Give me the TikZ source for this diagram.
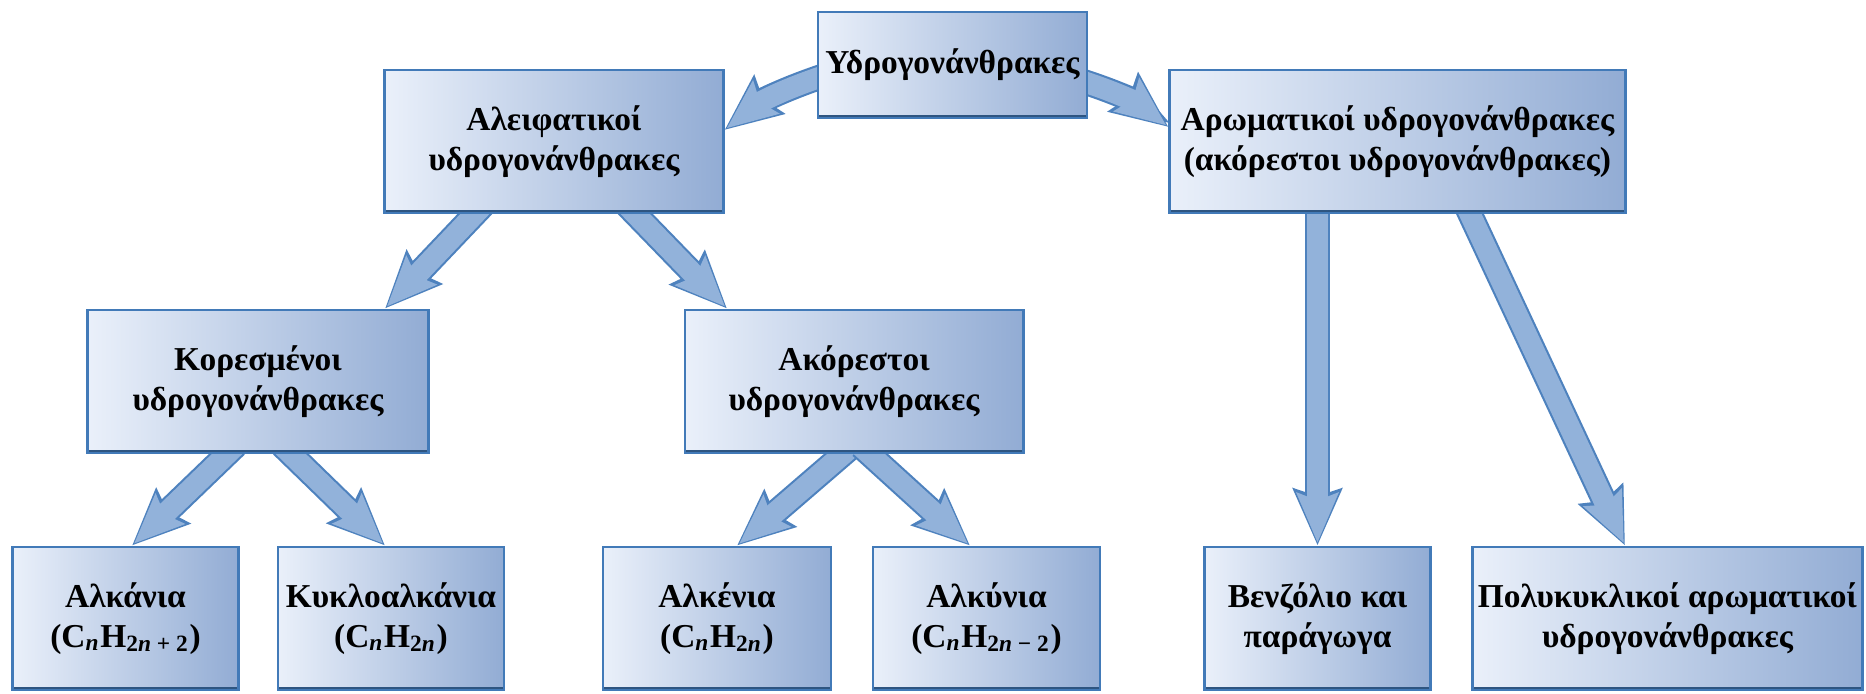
\documentclass[tikz,border=0pt]{standalone}
\usepackage{fontspec}
\setmainfont{Liberation Serif}
\usetikzlibrary{arrows.meta,calc,backgrounds}
\definecolor{boxlight}{RGB}{234,240,250}
\definecolor{boxdark}{RGB}{146,172,212}
\definecolor{boxedge}{RGB}{66,122,184}
\definecolor{arrowfill}{RGB}{146,178,218}
\definecolor{arrowedge}{RGB}{78,130,190}
\tikzset{
    box/.style = {
        draw = boxedge,
        line width = 0.8pt,
        left color = boxlight,
        right color = boxdark,
        align = center,
        inner sep = 0pt,
        minimum height = 1.43cm,
        font = \fontsize{9.5}{11.4}\selectfont\bfseries,
        path picture = {\draw[boxedge!70!black, line width=2pt]
            (path picture bounding box.south west) -- (path picture bounding box.south east);},
        },
    flow/.style = {
        draw = arrowfill,
        line width = 6pt,
        shorten >= 0.8pt,
        -{Stealth[length=14pt, width=11.5pt, inset=2pt]},
        preaction = {
            draw = arrowedge,
            line width = 7.2pt,
            shorten >= 0pt,
            -{Stealth[length=16pt, width=13.5pt, inset=2pt]},
            },
        },
}
\begin{document}
\begin{tikzpicture}[x=0.01cm, y=-0.01cm]
    \useasboundingbox (0,0) rectangle (1866,694);

    \node[box, minimum width=2.69cm, minimum height=1.06cm] (hydro) at (952.5,65) {Υδρογονάνθρακες};
    \node[box, minimum width=3.38cm] (aleif) at (554,141.5) {Αλειφατικοί\\υδρογονάνθρακες};
    \node[box, minimum width=4.55cm] (arom) at (1397.5,141.5) {Αρωματικοί υδρογονάνθρακες\\(ακόρεστοι υδρογονάνθρακες)};
    \node[box, minimum width=3.40cm] (kores) at (258,381.5) {Κορεσμένοι\\υδρογονάνθρακες};
    \node[box, minimum width=3.38cm] (akor) at (854,381.5) {Ακόρεστοι\\υδρογονάνθρακες};

    \node[box, minimum width=2.26cm] (alkania) at (125.5,618.5) {Αλκάνια\\(C\textsubscript{\textit{n}}H\textsubscript{2\textit{n} + 2})};
    \node[box, minimum width=2.26cm] (kyklo) at (391,618.5) {Κυκλοαλκάνια\\(C\textsubscript{\textit{n}}H\textsubscript{2\textit{n}})};
    \node[box, minimum width=2.28cm] (alkenia) at (717,618.5) {Αλκένια\\(C\textsubscript{\textit{n}}H\textsubscript{2\textit{n}})};
    \node[box, minimum width=2.27cm] (alkynia) at (986.5,618.5) {Αλκύνια\\(C\textsubscript{\textit{n}}H\textsubscript{2\textit{n} − 2})};
    \node[box, minimum width=2.26cm] (benz) at (1317.5,618.5) {Βενζόλιο και\\παράγωγα};
    \node[box, minimum width=3.90cm] (poly) at (1667.5,618.5) {Πολυκυκλικοί αρωματικοί\\υδρογονάνθρακες};

    % fat arrows under the boxes
    \begin{scope}[on background layer]
        \path ($(hydro.west)+(10,10)$) edge[flow, bend right=10] ($(aleif.east)+(0,-11.5)$);
        \path ($(hydro.east)+(-10,15)$) edge[flow, bend left=10] ($(arom.west)+(0,-14.5)$);
        \path ($(aleif.south)+(-71,-9)$) edge[flow] ($(kores.north)+(127,0)$);
        \path ($(aleif.south)+(73,-9)$) edge[flow] ($(akor.north)+(-127,0)$);
        \path ($(kores.south)+(-22,-9)$) edge[flow] ($(alkania.north)+(6.5,0)$);
        \path ($(kores.south)+(24,-9)$) edge[flow] ($(kyklo.north)+(-6,0)$);
        \path ($(akor.south)+(-2,-8)$) edge[flow] ($(alkenia.north)+(20,0)$);
        \path ($(akor.south)+(7,-8)$) edge[flow] ($(alkynia.north)+(-16.5,0)$);
        \path ($(benz.north |- arom.south)+(0,-10)$) edge[flow] (benz.north);
        \path ($(arom.south)+(68.5,-9)$) edge[flow] ($(poly.north)+(-42.5,0)$);
    \end{scope}
\end{tikzpicture}
\end{document}
